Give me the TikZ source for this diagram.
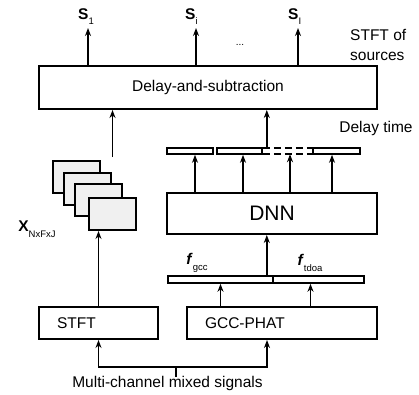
\documentclass[tikz,border=0pt]{standalone}
\usepackage{fontspec}
\setmainfont{Liberation Sans}
\usetikzlibrary{arrows.meta}

\newcommand{\lowsub}[1]{\raisebox{-0.7ex}{\fontsize{9.5}{9.5}\selectfont #1}}

\begin{document}
\begin{tikzpicture}[
    x=1pt, y=-1pt,
    >={Stealth[length=8pt, width=6pt]},
    flow/.style={->, line width=1.8pt},
    block/.style={draw, line width=2pt, inner sep=0pt, font=\fontsize{15.5}{18}\selectfont},
    barseg/.style={draw, line width=1.6pt, minimum height=6pt, inner sep=0pt},
    tfbox/.style={draw, line width=2pt, fill=gray!12, minimum width=47pt, minimum height=32pt, inner sep=0pt},
    txt/.style={font=\fontsize{15.5}{20}\selectfont, inner sep=0pt}
  ]
  \useasboundingbox (0,0) rectangle (419,394);

  % Delay-and-subtraction
  \node[block, minimum width=338pt, minimum height=43pt] (ds) at (208,87.5) {Delay-and-subtraction};

  % Uscite
  \coordinate (o1) at (88,28);
  \coordinate (o2) at (196,28);
  \coordinate (o3) at (298,28);
  \node[txt, anchor=base west] (s1) at (78,19) {\textbf{S}\lowsub{1}};
  \node[txt, anchor=base west] (s2) at (185,19) {\textbf{S}\lowsub{i}};
  \node[txt, anchor=base west] (s3) at (288,19) {\textbf{S}\lowsub{I}};
  \node[txt, font=\fontsize{10}{12}\selectfont] (dots) at (240,45) {...};
  \node[txt, align=left, anchor=north west] (src) at (350,29) {STFT of\\sources};
  \foreach \o in {o1, o2, o3}
    \draw[flow] (ds.north -| \o) -- (\o);

  % Delay time
  \node[barseg, minimum width=46pt] (d1) at (190,151) {};
  \node[barseg, minimum width=45pt] (d2) at (239.5,151) {};
  \node[inner sep=0pt, minimum width=49pt, minimum height=6pt] (d3) at (287.5,151) {};
  \node[barseg, minimum width=47pt] (d4) at (336.5,151) {};
  \draw[dash pattern=on 7pt off 4pt, line width=1.6pt] (d3.north west) -- (d3.north east) (d3.south west) -- (d3.south east);
  \node[txt] (dtime) at (376,128) {Delay time};
  \coordinate (dt) at ([xshift=4pt]d2.north east);
  \draw[flow] (dt) -- (dt |- ds.south);

  % DNN
  \node[block, minimum width=210pt, minimum height=41pt, font=\fontsize{21}{24}\selectfont] (dnn) at (272,213.5) {DNN};
  \foreach \d/\s in {d1/5, d2/3.5, d3/2.5, d4/-4.5}
    \draw[flow] ([xshift=\s pt]\d.south |- dnn.north) -- ([xshift=\s pt]\d.south);

  % Feature
  \node[barseg, minimum width=105pt, minimum height=7pt] (g1) at (220.5,279.5) {};
  \node[barseg, minimum width=91pt, minimum height=7pt] (g2) at (318.5,279.5) {};
  \node[txt] (fgcc) at (197,263) {\textbf{\textit{f}}\lowsub{gcc}};
  \node[txt] (ftdoa) at (310,263) {\textbf{\textit{f}}\lowsub{tdoa}};
  \coordinate (fin) at ([xshift=-7pt]g1.north east);
  \draw[flow] (fin) -- (fin |- dnn.south);

  % STFT e GCC-PHAT
  \node[block, minimum width=119pt, minimum height=32pt, text width=83pt, align=left] (stft) at (98.5,323) {STFT};
  \node[block, minimum width=190pt, minimum height=32pt, text width=154pt, align=left] (gcc) at (282,323) {GCC-PHAT};
  \draw[flow] (g1.south |- gcc.north) -- (g1.south);
  \draw[flow] ([xshift=-8pt]g2.south |- gcc.north) -- ([xshift=-8pt]g2.south);

  % Spettrogrammi
  \node[tfbox] (f1) at (76.5,177) {};
  \node[tfbox] (f2) at (87.5,189) {};
  \node[tfbox] (f3) at (98.5,200) {};
  \node[tfbox] (f4) at (112.5,214) {};
  \node[txt] (xlbl) at (37,229) {\textbf{X}\lowsub{NxFxJ}};
  \draw[flow] (stft.north) -- (f4.south -| stft.north);
  \draw[flow] ([yshift=3pt]f1.north -| f4.north) -- (ds.south -| f4.north);

  % Ingresso
  \coordinate (mix) at (176,377);
  \node[txt] (mixlbl) at (167.5,383) {Multi-channel mixed signals};
  \draw[line width=1.8pt] (mix) -- (mix |- 0,367);
  \draw[<->, line width=1.8pt] (stft.south) |- (mix |- 0,367) -| ([xshift=-15pt]gcc.south);

\end{tikzpicture}
\end{document}
